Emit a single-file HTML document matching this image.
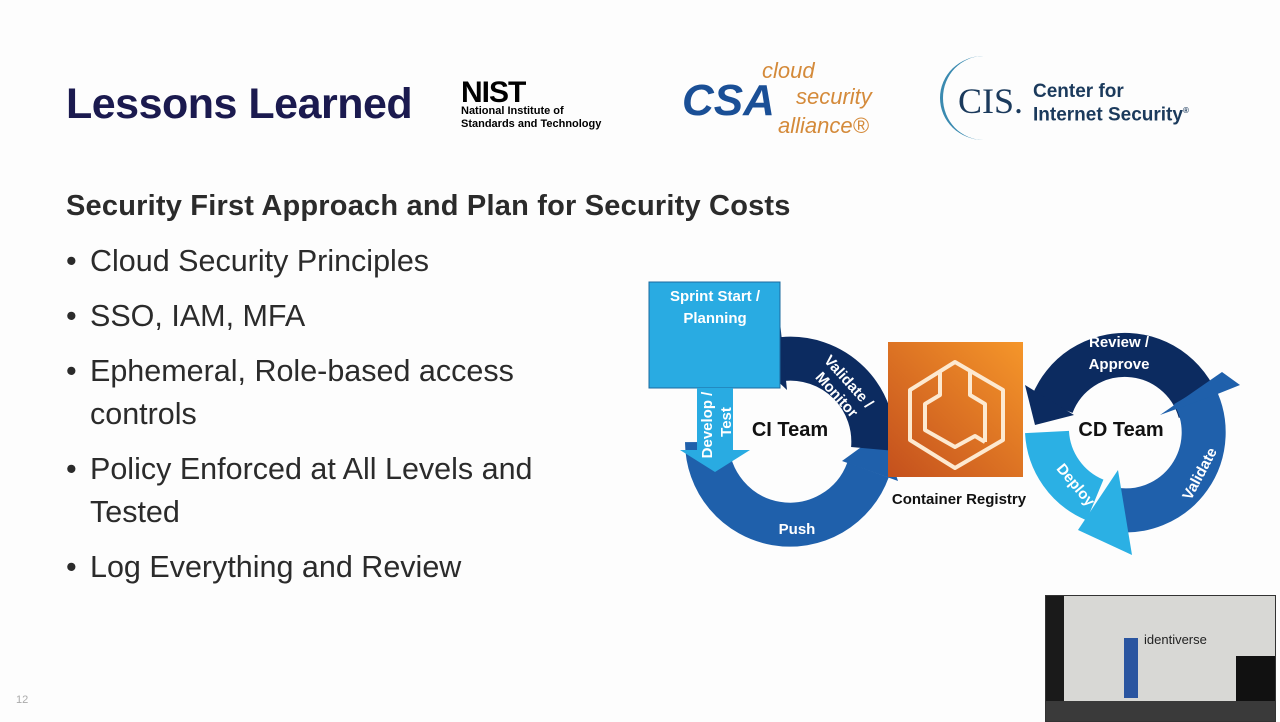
<!DOCTYPE html>
<html><head><meta charset="utf-8"><style>
body{margin:0;width:1280px;height:720px;background:#fdfdfd;font-family:"Liberation Sans",sans-serif;overflow:hidden;position:relative}
.a{position:absolute;white-space:nowrap}
h1{position:absolute;left:66px;top:80px;margin:0;font-size:43px;color:#1b1a4f;font-weight:bold;letter-spacing:-0.5px}
.sub{left:66px;top:190px;font-size:29px;font-weight:bold;color:#2b2b2b;letter-spacing:0.2px}
.li{left:66px;font-size:30.5px;color:#2b2b2b;line-height:43px}
.li b{font-weight:normal;display:inline-block;width:24px}
</style></head><body>
<h1>Lessons Learned</h1>
<div class="a" style="left:461px;top:76px;font-size:30px;font-weight:bold;letter-spacing:-1px">NIST</div>
<div class="a" style="left:461px;top:105px;font-size:11px;font-weight:bold;line-height:13px">National Institute of<br>Standards and Technology</div>
<div class="a" style="left:682px;top:76px;font-size:44px;font-weight:bold;font-style:italic;color:#1a4f96">CSA</div>
<div class="a" style="left:762px;top:58px;font-size:22px;color:#d48a3a;font-style:italic">cloud</div>
<div class="a" style="left:796px;top:84px;font-size:22px;color:#d48a3a;font-style:italic">security</div>
<div class="a" style="left:778px;top:113px;font-size:22px;color:#d48a3a;font-style:italic">alliance®</div>
<div class="a" style="left:940px;top:56px;width:84px;height:84px;border-radius:50%;border-left:3px solid #3a8ab0"></div>
<div class="a" style="left:958px;top:80px;font-size:36px;font-family:'Liberation Serif',serif;color:#1b3a5c">CIS.</div>
<div class="a" style="left:1033px;top:82px;font-size:19px;font-weight:bold;color:#1b3a5c;line-height:19px">Center for<br>Internet Security<sup style="font-size:8px">®</sup></div>

<div class="a sub">Security First Approach and Plan for Security Costs</div>
<div class="a li" style="top:240px"><b>•</b>Cloud Security Principles</div>
<div class="a li" style="top:295px"><b>•</b>SSO, IAM, MFA</div>
<div class="a li" style="top:350px"><b>•</b>Ephemeral, Role-based access<br><b></b>controls</div>
<div class="a li" style="top:448px"><b>•</b>Policy Enforced at All Levels and<br><b></b>Tested</div>
<div class="a li" style="top:546px"><b>•</b>Log Everything and Review</div>
<div class="a" style="left:16px;top:694px;font-size:11px;color:#aaa">12</div>

<svg class="a" style="left:0;top:0" width="1280" height="720">
<defs><linearGradient id="o" x1="1" y1="0" x2="0" y2="1"><stop offset="0" stop-color="#f5962a"/><stop offset="1" stop-color="#c4501d"/></linearGradient></defs>
<path d="M707 442 A83 83 0 0 0 868 470" fill="none" stroke="#1f60ab" stroke-width="44"/>
<polygon points="842,461 898,481 882,432" fill="#1f60ab"/>
<path d="M873 449 A83 83 0 0 0 783 359" fill="none" stroke="#0c2b60" stroke-width="44"/>
<polygon points="787,390 780,322 752,357" fill="#0c2b60"/>
<rect x="649" y="282" width="131" height="106" fill="#29abe2" stroke="#1b6aa0"/>
<polygon points="697,388 733,388 733,450 750,450 715,472 680,450 697,450" fill="#29abe2"/>
<path d="M1200 412 A78 78 0 0 0 1052 405" fill="none" stroke="#0c2b60" stroke-width="44"/>
<polygon points="1074,415 1025,385 1035,425" fill="#0c2b60"/>
<path d="M1111 509 A78 78 0 0 0 1193 393" fill="none" stroke="#1f60ab" stroke-width="44"/>
<polygon points="1160,415 1222,372 1240,385 1215,395" fill="#1f60ab"/>
<path d="M1047 432 A78 78 0 0 0 1095 500" fill="none" stroke="#2bb0e4" stroke-width="44"/>
<polygon points="1078,530 1118,470 1132,555" fill="#2bb0e4"/>
<rect x="888" y="342" width="135" height="135" fill="url(#o)"/>
<g fill="none" stroke="#fde9d0" stroke-width="4" stroke-linejoin="round">
<polygon points="955,362 1003,390 1003,440 955,468 910,440 910,390"/>
<polyline points="940,372 940,395 925,404 925,430 955,447 975,436 985,442"/>
<polyline points="970,372 970,395 985,404 985,442"/>
</g>
<g font-weight="bold" fill="#fff" font-size="15" text-anchor="middle">
<text x="715" y="301">Sprint Start /</text><text x="715" y="323">Planning</text>
<text x="797" y="534">Push</text>
<text x="1119" y="347">Review /</text><text x="1119" y="369">Approve</text>
<text transform="translate(712,425) rotate(-90)">Develop /</text>
<text transform="translate(731,422) rotate(-90)">Test</text>
<text transform="translate(845,385) rotate(48)">Validate /</text>
<text transform="translate(833,398) rotate(48)">Monitor</text>
<text transform="translate(1072,488) rotate(50)">Deploy</text>
<text transform="translate(1204,476) rotate(-62)">Validate</text>
</g>
<text x="790" y="436" font-size="20" font-weight="bold" text-anchor="middle" fill="#111">CI Team</text>
<text x="1121" y="436" font-size="20" font-weight="bold" text-anchor="middle" fill="#111">CD Team</text>
<text x="959" y="504" font-size="15" font-weight="bold" text-anchor="middle" fill="#111">Container Registry</text>
</svg>
<div class="a" style="left:1045px;top:595px;width:229px;height:125px;background:#d8d8d5;border:1px solid #333;overflow:hidden">
<div class="a" style="left:0;top:0;width:18px;height:125px;background:#1a1a1a"></div>
<div class="a" style="left:98px;top:36px;font-size:13px;color:#222">identiverse</div>
<div class="a" style="left:78px;top:42px;width:14px;height:60px;background:#2a55a0"></div>
<div class="a" style="left:190px;top:60px;width:40px;height:50px;background:#111"></div>
<div class="a" style="left:0;top:105px;width:229px;height:20px;background:#3a3a3a"></div>
</div>
</body></html>
